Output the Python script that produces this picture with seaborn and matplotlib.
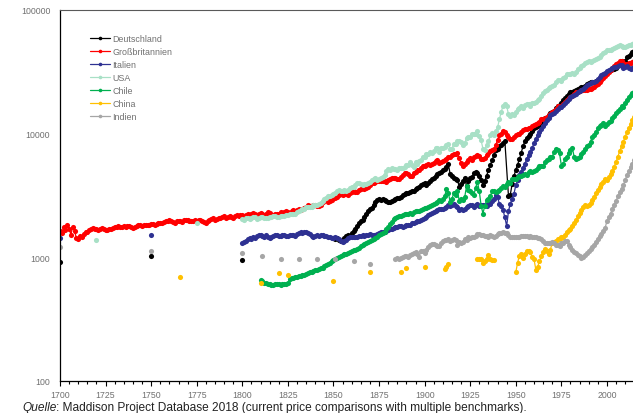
import numpy as np
import pandas as pd
import matplotlib
matplotlib.use('Agg')
import matplotlib.pyplot as plt
from matplotlib.ticker import FixedLocator, MultipleLocator, NullLocator
import seaborn as sns

# BIP pro Kopf (Maddison Project Database 2018, cgdppc)
laender = ['Deutschland', 'Großbritannien', 'Italien', 'USA', 'Chile', 'China', 'Indien']
farben = ['#000000', '#ff0000', '#2e3192', '#a8e0c6', '#00b050', '#ffc000', '#a6a6a6']

de_jahre = [1700, 1750, 1800] + list(range(1850, 1945)) + list(range(1946, 2017))
de_bip = [910, 1020, 950,
          1430, 1400, 1420, 1380, 1360, 1370, 1430, 1480, 1500, 1490,
          1560, 1620, 1700, 1780, 1880, 1950, 2000, 2100, 2250, 2350,
          2450, 2500, 2650, 2780, 2880, 2950, 2900, 2950, 2880, 2820,
          2780, 2800, 2830, 2900, 2960, 3000, 2980, 3080, 3150, 3230,
          3300, 3280, 3350, 3420, 3450, 3550, 3650, 3700, 3800, 3900,
          3950, 3850, 3950, 4100, 4250, 4400, 4550, 4700, 4800, 4900,
          5050, 5200, 5400, 5650, 4700, 4500, 4400, 4300, 4200, 3700,
          3900, 4100, 4400, 3750, 4100, 4400, 4450, 4750, 4850, 4750,
          4550, 4200, 3850, 4150, 4550, 5050, 5550, 6050, 6700, 7300,
          7500, 7900, 8100, 8400, 8700,
          3100, 3200, 3900, 4500,
          5100, 5600, 6200, 7000, 7900, 8700, 9200, 9600, 9900, 10500,
          11000, 11300, 11600, 11900, 12500, 13100, 13400, 13300, 14100, 14600,
          14900, 15300, 16000, 16800, 17000, 17600, 18600, 19400, 20200, 21000,
          21500, 21700, 21900, 22300, 22900, 23300, 23700, 24000, 24400, 25000,
          25600, 26200, 25900, 25900, 26600, 27300, 27900, 28600, 29400, 30300,
          31400, 32000, 32500, 33000, 33400, 34000, 35600, 37500, 38600, 36700,
          39000, 41500, 42500, 44000, 45800, 46600, 47400]

gb_jahre = list(range(1700, 2017))
gb_bip = [1630, 1560, 1750, 1640, 1820, 1700, 1520, 1760, 1620, 1420,
          1400, 1480, 1450, 1540, 1600, 1580, 1660, 1700, 1720, 1680,
          1700, 1650, 1690, 1720, 1680, 1660, 1650, 1700, 1690, 1730,
          1760, 1740, 1790, 1760, 1740, 1770, 1750, 1790, 1770, 1760,
          1720, 1760, 1790, 1820, 1800, 1780, 1830, 1800, 1820, 1800,
          1840, 1850, 1820, 1860, 1880, 1900, 1880, 1920, 1960, 1940,
          1980, 1950, 1930, 1900, 1940, 1970, 1960, 1930, 1990, 2010,
          1980, 1950, 1940, 1970, 2000, 1960, 1980, 2010, 1960, 1920,
          1900, 1950, 1980, 2020, 2060, 2000, 2040, 2080, 2050, 2100,
          2150, 2080, 2120, 2160, 2110, 2060, 2130, 2190, 2150, 2200,
          2170, 2120, 2200, 2240, 2180, 2220, 2260, 2210, 2170, 2230,
          2280, 2230, 2190, 2250, 2300, 2260, 2200, 2180, 2240, 2210,
          2250, 2310, 2280, 2330, 2370, 2300, 2260, 2340, 2390, 2360,
          2400, 2440, 2420, 2470, 2510, 2560, 2620, 2580, 2600, 2660,
          2640, 2600, 2580, 2660, 2780, 2830, 2880, 2800, 2830, 2900,
          2980, 3030, 3080, 3180, 3210, 3150, 3240, 3260, 3200, 3300,
          3380, 3400, 3330, 3390, 3460, 3550, 3620, 3560, 3620, 3700,
          3850, 3980, 3960, 4030, 4090, 4140, 4160, 4150, 4120, 4040,
          4180, 4300, 4380, 4360, 4330, 4270, 4320, 4460, 4620, 4780,
          4800, 4690, 4550, 4520, 4750, 4880, 5060, 5100, 5260, 5450,
          5500, 5550, 5650, 5600, 5700, 5800, 5950, 6050, 5800, 5900,
          6000, 6150, 6200, 6450, 6400, 6700, 6800, 6850, 6900, 6300,
          5800, 5450, 5700, 5900, 6100, 6350, 6100, 6500, 6600, 6750,
          6570, 6180, 6200, 6340, 6740, 6970, 7220, 7420, 7470, 8000,
          8900, 9700, 10000, 10500, 10200, 9700, 9300, 9000, 9100, 9400,
          9700, 10000, 9900, 10300, 10600, 10900, 10900, 11100, 11000, 11400,
          11700, 12000, 12100, 12500, 13000, 13200, 13300, 13500, 14100, 14500,
          14800, 15200, 15800, 16600, 16500, 16600, 17300, 18000, 18800, 19500,
          19800, 20300, 20900, 21500, 21800, 22100, 22400, 22600, 22500, 22700,
          23000, 23100, 23400, 24000, 24600, 25300, 26200, 27200, 28200, 29300,
          30500, 31700, 32800, 34000, 35400, 36500, 37400, 38300, 38800, 36900,
          36500, 36700, 37000, 37300, 37900, 38400, 38800]

it_jahre = [1700, 1750] + list(range(1800, 2017))
it_bip = [1430, 1500,
          1310, 1330, 1350, 1390, 1420, 1400, 1440, 1430, 1470, 1500,
          1510, 1480, 1460, 1500, 1460, 1430, 1450, 1480, 1500, 1510,
          1490, 1470, 1500, 1520, 1490, 1480, 1500, 1520, 1510, 1490,
          1530, 1560, 1580, 1560, 1590, 1600, 1560, 1530, 1480, 1460,
          1490, 1500, 1480, 1500, 1510, 1490, 1480, 1460, 1450, 1430,
          1420, 1440, 1430, 1400, 1360, 1330, 1350, 1380, 1420, 1440,
          1450, 1440, 1460, 1450, 1470, 1480, 1500, 1490, 1500, 1510,
          1530, 1510, 1500, 1520, 1540, 1570, 1590, 1580, 1600, 1630,
          1650, 1680, 1700, 1720, 1740, 1760, 1780, 1770, 1760, 1780,
          1800, 1830, 1820, 1870, 1900, 1920, 1940, 1960, 2000, 2040,
          2080, 2120, 2180, 2250, 2280, 2300, 2350, 2420, 2450, 2440,
          2470, 2500, 2550, 2620, 2580, 2650, 2700, 2600, 2550, 2420,
          2450, 2380, 2450, 2550, 2580, 2640, 2620, 2560, 2650, 2700,
          2600, 2620, 2640, 2620, 2610, 2700, 2680, 2850, 2950, 3200,
          3050, 2700, 2600, 2400, 2100, 1780, 2350, 2700, 2950, 3250,
          3800, 4200, 4600, 4900, 5300, 5700, 6200, 6700, 7100, 7600,
          8400, 9100, 9700, 10300, 10900, 11500, 12100, 12800, 13400, 14000,
          14300, 14700, 15200, 15900, 16400, 16300, 17100, 17700, 18300, 19000,
          19600, 20000, 20400, 20900, 21500, 22000, 22500, 23100, 23800, 24500,
          25300, 25700, 25900, 25900, 26700, 27800, 28500, 29500, 30300, 31100,
          32000, 32700, 33300, 33800, 34400, 34800, 35500, 36000, 35700, 34000,
          34600, 34900, 34000, 33500, 34000, 34400, 35000]

us_jahre = [1720, 1775] + list(range(1800, 2017))
us_bip = [1375, 1875,
          2030, 2010, 2050, 2070, 2040, 2080, 2100, 2110, 2030, 2070,
          2100, 2110, 2080, 2060, 2050, 2090, 2110, 2130, 2150, 2120,
          2100, 2130, 2160, 2150, 2180, 2200, 2230, 2210, 2240, 2230,
          2300, 2360, 2380, 2450, 2440, 2520, 2560, 2540, 2550, 2620,
          2650, 2630, 2680, 2750, 2850, 2930, 2980, 3100, 3120, 3180,
          3250, 3300, 3420, 3470, 3400, 3430, 3480, 3420, 3500, 3620,
          3720, 3680, 3850, 3950, 4010, 3890, 3860, 3880, 3930, 3980,
          4080, 4170, 4260, 4360, 4240, 4280, 4330, 4470, 4650, 4980,
          5180, 5070, 5230, 5160, 5120, 5090, 5220, 5260, 5210, 5320,
          5520, 5600, 5860, 5520, 5350, 5830, 5680, 6010, 6080, 6400,
          6450, 6880, 6850, 7060, 6950, 7200, 7640, 7700, 7080, 7650,
          7700, 7800, 8020, 8150, 7500, 7550, 8250, 8150, 8700, 8670,
          8480, 8020, 8380, 9190, 9350, 9430, 9850, 9850, 9950, 10480,
          9470, 8790, 7520, 7390, 8040, 8620, 9700, 10140, 9700, 10420,
          11200, 13000, 15000, 16600, 17200, 16700, 14300, 13900, 14300, 14000,
          14900, 15800, 16200, 16600, 16200, 17100, 17200, 17200, 16800, 17600,
          17800, 17900, 18700, 19200, 20200, 21100, 22200, 22600, 23400, 23900,
          24200, 24900, 25900, 27100, 26900, 26800, 28000, 28900, 30100, 30600,
          30500, 31000, 30300, 31500, 33300, 34200, 34900, 35800, 36900, 37900,
          38300, 37900, 38600, 39400, 40400, 40900, 41800, 43200, 44500, 46100,
          47300, 47500, 47800, 48500, 49600, 50500, 51300, 51800, 51400, 49700,
          50500, 51200, 51800, 52400, 53200, 54300, 54900]

cl_jahre = list(range(1810, 2017))
cl_bip = [650, 640, 620, 615, 605, 600, 595, 590, 600, 600,
          605, 595, 600, 605, 600, 620, 660, 670, 680, 690,
          690, 700, 700, 710, 720, 730, 740, 750, 760, 770,
          780, 790, 800, 810, 820, 840, 860, 880, 900, 920,
          940, 960, 980, 1000, 1020, 1040, 1050, 1060, 1080, 1090,
          1110, 1130, 1150, 1170, 1190, 1220, 1250, 1270, 1300, 1320,
          1350, 1370, 1400, 1430, 1460, 1500, 1540, 1560, 1600, 1680,
          1760, 1850, 1920, 2030, 2060, 2090, 2130, 2160, 2200, 2230,
          2210, 2240, 2280, 2230, 2300, 2340, 2370, 2350, 2400, 2430,
          2480, 2500, 2540, 2600, 2650, 2700, 2750, 2810, 2900, 2850,
          2950, 3100, 3560, 3300, 2800, 2950, 3300, 3150, 3400, 2850,
          2950, 2900, 3050, 3770, 3500, 3450, 3300, 3150, 3650, 4050,
          3400, 2600, 2250, 2600, 2900, 2950, 3100, 3400, 3400, 3350,
          3450, 3500, 3600, 3750, 3700, 3900, 4050, 4000, 4300, 4250,
          4300, 4450, 4550, 4500, 4600, 4700, 4650, 4900, 4950, 4850,
          5000, 5100, 5250, 5450, 5500, 5500, 5900, 6050, 6200, 6400,
          6500, 7100, 7500, 7300, 6900, 5500, 5700, 6200, 6500, 7000,
          7400, 7700, 6500, 6200, 6300, 6500, 6800, 7100, 7500, 7900,
          8000, 8600, 9400, 9800, 10300, 11000, 11400, 11800, 12100, 11600,
          12000, 12400, 12700, 13300, 13900, 14600, 15300, 15900, 16600, 16300,
          17500, 18700, 19600, 20600, 21100, 21500, 22000]

cn_jahre = ([1766, 1810, 1820, 1825, 1850, 1870, 1887, 1890, 1900, 1911, 1912, 1913]
            + list(range(1929, 1939)) + list(range(1950, 2017)))
cn_bip = [690, 620, 740, 710, 640, 750, 760, 810, 830, 800, 830, 870,
          960, 970, 960, 900, 935, 970, 1030, 970, 950, 950,
          750, 900, 1020, 1050, 990, 1050, 1120, 1110, 1090, 1000,
          960, 790, 830, 930, 1010, 1100, 1170, 1110, 1060, 1150,
          1300, 1330, 1350, 1390, 1410, 1460, 1440, 1500, 1580, 1640,
          1700, 1770, 1880, 1980, 2130, 2280, 2380, 2520, 2620, 2600,
          2620, 2720, 2880, 3060, 3280, 3480, 3680, 3880, 4050, 4250,
          4200, 4450, 4700, 5000, 5400, 5900, 6500, 7200, 7900, 8600,
          9400, 10300, 11100, 12000, 12800, 13500, 14200]

in_jahre = [1700, 1750, 1800, 1811, 1821, 1831, 1841, 1851, 1861, 1870] + list(range(1884, 2017))
in_bip = [1200, 1120, 1070, 1010, 960, 970, 970, 970, 930, 880,
          970, 990, 960, 990, 1000, 1010,
          1020, 1000, 1040, 1060, 1080, 1100, 1050, 1000, 1120, 1110,
          1080, 1130, 1200, 1250, 1270, 1280, 1260, 1220, 1230, 1300,
          1360, 1380, 1370, 1400, 1350, 1380, 1400, 1380, 1240, 1330,
          1290, 1330, 1400, 1380, 1450, 1420, 1460, 1440, 1480, 1530,
          1540, 1520, 1510, 1490, 1480, 1460, 1500, 1470, 1440, 1480,
          1530, 1560, 1560, 1590, 1570, 1550, 1500, 1460, 1440, 1450,
          1440, 1440, 1450, 1470, 1480, 1470, 1480, 1450, 1470, 1450,
          1460, 1450, 1430, 1420, 1410, 1340, 1300, 1310, 1300, 1310,
          1320, 1300, 1250, 1260, 1230, 1300, 1310, 1340, 1360, 1260,
          1200, 1150, 1100, 1070, 1040, 1020, 990, 1000, 1040, 1080,
          1120, 1160, 1200, 1260, 1320, 1390, 1480, 1540, 1620, 1720,
          1950, 2100, 2250, 2450, 2650, 2850, 3100, 3350, 3550, 3800,
          4200, 4600, 4950, 5400, 5700, 6100, 6500]

x_ticks = [1700, 1725, 1750, 1775, 1800, 1825, 1850, 1875, 1900, 1925, 1950, 1975, 2000]
y_ticks = [100, 1000, 10000, 100000]
y_labels = ['100', '1000', '10000', '100000']
quelle = ': Maddison Project Database 2018 (current price comparisons with multiple benchmarks).'

alle_jahre = [de_jahre, gb_jahre, it_jahre, us_jahre, cl_jahre, cn_jahre, in_jahre]
alle_bip = [de_bip, gb_bip, it_bip, us_bip, cl_bip, cn_bip, in_bip]

frames = []
for land, jahre, werte in zip(laender, alle_jahre, alle_bip):
    assert len(jahre) == len(werte), (land, len(jahre), len(werte))
    d = pd.DataFrame({'Jahr': jahre, 'BIP': werte})
    d['Land'] = land
    # Luecken > 2 Jahre trennen die Linie
    neu = (d['Jahr'].diff().fillna(99) > 2).cumsum()
    d['Abschnitt'] = land + '_' + neu.astype(str)
    frames.append(d)
df = pd.concat(frames, ignore_index=True)

sns.set_style('white')
plt.rcParams['font.family'] = ['Liberation Sans', 'DejaVu Sans']

fig = plt.figure(figsize=(6.33, 4.14), dpi=100)
ax = fig.add_axes([60/633, 32.5/414, 573/633, 370.5/414])

sns.lineplot(data=df, x='Jahr', y='BIP', hue='Land', hue_order=laender, palette=farben,
             units='Abschnitt', estimator=None, sort=True, marker='o', markersize=3.7,
             markeredgewidth=0, linewidth=0.9, ax=ax)

ax.set_yscale('log')
ax.set_ylim(100, 100000)
ax.set_xlim(1700, 2014.3)
ax.yaxis.set_major_locator(FixedLocator(y_ticks))
ax.set_yticklabels(y_labels)
ax.yaxis.set_minor_locator(NullLocator())
ax.xaxis.set_major_locator(FixedLocator(x_ticks))
ax.set_xticklabels([str(j) for j in x_ticks])
ax.xaxis.set_minor_locator(MultipleLocator(5))
ax.tick_params(axis='x', which='both', direction='out', color='black', width=0.8,
               labelsize=6.3, labelcolor='#707070', pad=3)
ax.tick_params(axis='x', which='major', length=3.5, bottom=True)
ax.tick_params(axis='x', which='minor', length=2.5, bottom=True)
ax.tick_params(axis='y', which='both', length=0, labelsize=6.3, labelcolor='#707070', pad=7)
ax.set_xlabel('')
ax.set_ylabel('')

for s in ['left', 'bottom']:
    ax.spines[s].set_color('black')
    ax.spines[s].set_linewidth(0.9)
ax.spines['top'].set_color('#595959')
ax.spines['top'].set_linewidth(0.8)
ax.spines['right'].set_visible(False)

h, l = ax.get_legend_handles_labels()
ax.legend(h, l, loc='upper left', bbox_to_anchor=(0.052, 0.935), frameon=False,
          fontsize=6.4, labelcolor='#707070', handlelength=2.3, handletextpad=0.2,
          labelspacing=0.45, borderpad=0, borderaxespad=0, markerscale=0.7)

t = fig.text(22/633, 2.5/414, 'Quelle', fontsize=8.6, style='italic', color='#222222', va='baseline')
ax.annotate(quelle, xy=(1, 0), xycoords=t, va='bottom', ha='left', fontsize=8.6,
            color='#222222', annotation_clip=False)

fig.savefig('out.png', dpi=100)
